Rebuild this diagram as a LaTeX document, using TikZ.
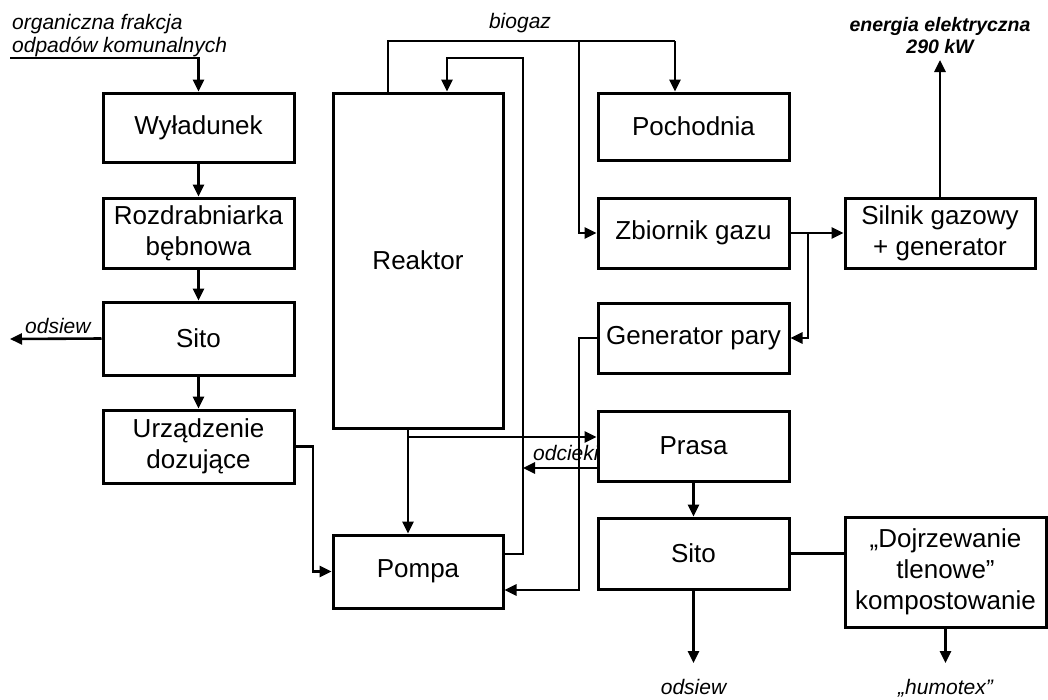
\documentclass[tikz,border=0pt]{standalone}
\usepackage{fontspec}
\setmainfont{Liberation Sans}
\usetikzlibrary{arrows.meta}
\begin{document}
\begin{tikzpicture}[x=1pt,y=-1pt,
  box/.style={draw, line width=3pt, rectangle, inner sep=0pt, align=center,
    font=\fontsize{26}{31}\selectfont, minimum width=191pt, minimum height=70pt},
  ln/.style={line width=2.6pt},
  arr/.style={ln, -{Triangle[length=12pt,width=11pt]}},
  lab/.style={inner sep=0pt, font=\fontsize{21}{24}\selectfont\itshape},
]
\useasboundingbox (0,0) rectangle (1048,699);
% left column
\node[box, minimum height=69pt] (wyl) at (198.5,127.5) {Wyładunek};
\node[box] (rozd) at (198.5,233) {Rozdrabniarka\\bębnowa};
\node[box, minimum height=73pt] (sito1) at (198.5,338.5) {Sito};
\node[box, minimum height=73pt] (urz) at (198.5,446.5) {Urządzenie\\dozujące};
% middle column
\node[box, minimum width=170pt, minimum height=335pt] (reak) at (418,260.5) {Reaktor};
\node[box, minimum width=170pt, minimum height=73pt] (pompa) at (418,571.5) {Pompa};
% right column
\node[box, minimum height=67pt] (poch) at (693.5,126.5) {Pochodnia};
\node[box] (zb) at (693.5,233) {Zbiornik gazu};
\node[box] (gen) at (693.5,338) {Generator pary};
\node[box] (prasa) at (693.5,446) {Prasa};
\node[box, minimum height=71pt] (sito2) at (693.5,553.5) {Sito};
\node[box, minimum width=190pt] (sil) at (940,233) {Silnik gazowy\\+ generator};
\node[box, minimum width=201pt, minimum height=110pt] (dojrz) at (945.5,572) {„Dojrzewanie\\tlenowe”\\kompostowanie};
% free ends
\coordinate (inp) at (10,58);
\coordinate (os1) at (10,339);
\coordinate (en) at (940,60);
\coordinate (os2) at (693.5,663);
\coordinate (hum) at (945.5,663);
% labels
\node[lab, anchor=base west] (l1) at (12,29) {organiczna frakcja};
\node[lab, anchor=base west] (l2) at (12,52) {odpadów komunalnych};
\node[lab, anchor=base] (lbio) at (520,28) {biogaz};
\node[lab, anchor=base, font=\fontsize{19.5}{23}\selectfont\bfseries\itshape] (len1) at (940,31) {energia elektryczna};
\node[lab, anchor=base, font=\fontsize{19.5}{23}\selectfont\bfseries\itshape] (len2) at (940,53) {290 kW};
\node[lab, anchor=base west] (los1) at (25,333) {odsiew};
\node[lab, anchor=base west] (lodc) at (533,460) {odcieki};
\node[lab, anchor=base] (los2) at (693.5,694) {odsiew};
\node[lab, anchor=base] (lhum) at (945.5,694) {„humotex”};
% connectors
\draw[arr] (inp) -| (wyl.north);
\draw[arr] (wyl.south) -- (rozd.north);
\draw[arr] (rozd.south) -- (sito1.north);
\draw[arr] (sito1.south) -- (urz.north);
\draw[arr] (sito1.west) -- (os1);
\draw[arr] (urz.east) -- (313,446.5) |- (pompa.west);
\draw[arr] ([xshift=-10pt]reak.south) -- ([xshift=-10pt]pompa.north);
\draw[arr] (408,437) -- ([yshift=9pt]prasa.west);
\draw[arr] ([yshift=-22pt]prasa.west) -- (523,468);
\draw[arr] ([yshift=17.5pt]pompa.east) -- (523,554) -- (523,58) -- (447,58) -- ([xshift=29pt]reak.north);
\draw[ln] ([xshift=-30pt]reak.north) -- (388,41) -- (675,41);
\draw[arr] (675,41) -- ([xshift=-18.5pt]poch.north);
\draw[arr] (579,41) |- (zb.west);
\draw[arr] (zb.east) -- (sil.west);
\draw[arr] (808,233) |- (gen.east);
\draw[arr] (gen.west) -- (579,338) -- (579,590) -- ([yshift=-18.5pt]pompa.east);
\draw[arr] (sil.north) -- (en);
\draw[arr] (prasa.south) -- (sito2.north);
\draw[ln] (sito2.east) -- (sito2.east -| dojrz.west);
\draw[arr] (sito2.south) -- (os2);
\draw[arr] (dojrz.south) -- (hum);
\end{tikzpicture}
\end{document}
